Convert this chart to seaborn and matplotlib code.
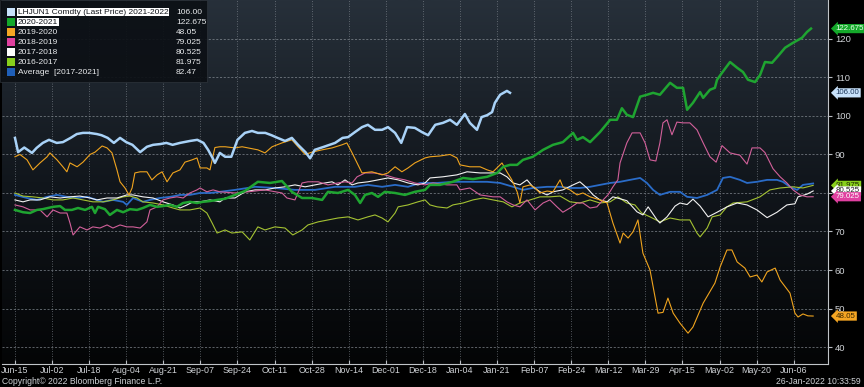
import numpy as np
import pandas as pd
import matplotlib
matplotlib.use("Agg")
import matplotlib.pyplot as plt
import matplotlib.transforms as mtransforms
from matplotlib.colors import LinearSegmentedColormap
from matplotlib.patches import Rectangle
import seaborn as sns

# (trading days since Jun-15, price)
lhjun1 = [(0, 94.3), (1, 90.6), (3, 91.8), (5.5, 90.4), (7, 91.7), (9, 93), (11, 93.8), (13.5, 93), (15.5, 93.2), (18, 94.3),
          (20, 95.3), (22, 95.6), (24, 95.6), (26.5, 95.3), (28, 95), (30, 94.3), (32, 93), (34, 94.3), (36, 93.2), (38, 92.5),
          (40.5, 90.6), (42.7, 92), (44.7, 92.5), (47, 92.7), (49, 93), (51, 92.5), (53.4, 93), (56.6, 93.5), (59, 93.8), (61, 93),
          (62.5, 91.2), (64, 89), (64.7, 87.8), (66.3, 90.4), (68, 89.4), (70, 89.4), (72, 93.8), (74.4, 95.6), (76.7, 96.1), (78.6, 95.6),
          (81, 95.6), (83, 95), (85, 94.3), (87.4, 93.5), (89.6, 94.3), (91.6, 92.5), (94, 90.6), (95.5, 89), (97, 91.2), (100, 92),
          (103.6, 93), (106, 94.3), (107.8, 94.5), (110, 95.8), (112.3, 97.1), (114.2, 97.7), (116.5, 96.4), (118.8, 96.4), (120.7, 97.1), (123, 95.6),
          (125, 93), (126.9, 97.1), (129.4, 96.9), (131.7, 95.8), (133.7, 95), (136, 97.7), (138.5, 98.2), (140.8, 99), (143, 97.7), (145.6, 100.5),
          (147.2, 98.2), (149.5, 96.4), (151, 99.7), (152.8, 100.2), (154.4, 101), (155.3, 103.4), (157, 105.5), (159.2, 106.5), (160.2, 106.0)]

y2020_21 = [(0, 75.6), (2.6, 75), (4.9, 74.8), (7.1, 75.6), (9, 75.8), (12.3, 76.4), (14.6, 76.6), (16.2, 75.6), (18.4, 75.6), (20.4, 76.1),
            (22.7, 75.6), (24.9, 76.4), (25.9, 74.8), (26.9, 76.4), (29.1, 75.8), (30.7, 74.3), (33, 75.6), (35, 75), (37.2, 75.8), (39.5, 75.6),
            (41.4, 76.1), (43.7, 76.9), (46, 76.4), (47.9, 76.6), (50.2, 76.9), (52.4, 76.4), (54.4, 77.4), (56.6, 77.7), (58.9, 77.4), (60.8, 77.7),
            (63.1, 77.9), (65.4, 78.2), (68, 78.5), (71.2, 79.5), (74.4, 80.5), (78.6, 82.9), (82.5, 82.6), (86.4, 83.1), (89.6, 80.3), (92.9, 78.7),
            (96.1, 78.7), (99.4, 78.2), (101.3, 80.3), (104.5, 80), (107.8, 80.8), (110, 79.5), (111.7, 77.4), (113.3, 79.5), (115.5, 80), (117.5, 79),
            (119.7, 80.3), (123, 80), (126.2, 79.5), (129.4, 80.3), (132.7, 80.8), (134.3, 82.1), (137.5, 82.1), (141.7, 82.9), (145, 83.9), (148.2, 83.6),
            (152.8, 84.2), (156, 85.2), (158, 86.8), (160.2, 87.3), (162.5, 87.3), (164.4, 88.6), (167.6, 89.4), (170.9, 91.2), (174.1, 92.5), (177.3, 93.2),
            (180.6, 95.6), (181.9, 93.8), (183.8, 94.5), (186.1, 93.2), (189.3, 95.8), (192.6, 99), (194.8, 99), (196.4, 102), (198, 100.3), (200, 99.7),
            (202.3, 105), (204.5, 105.5), (206.5, 106), (208.7, 105.5), (212, 108.6), (214.2, 107.3), (216.2, 107.3), (217.5, 101.6), (219.4, 103.4), (221.7, 106.2),
            (222.7, 104.7), (224.9, 106.8), (226.5, 107.3), (227.2, 109.4), (228.8, 111.2), (231.4, 114), (233.7, 112.5), (235.6, 111.4), (237.2, 109.4), (239.5, 108.8),
            (241.1, 110.6), (242.7, 114), (245, 113.8), (247.2, 115.8), (249.2, 117.7), (251.8, 119), (254.7, 120.3), (256.3, 121.8), (257.6, 122.675)]

y2019_20 = [(0, 89.4), (1.6, 90), (3.9, 88.6), (5.8, 86), (8.1, 87.8), (10.4, 89.4), (11.3, 90.4), (13.6, 88.6), (15.5, 86.8), (16.8, 85.5),
            (17.8, 87.8), (20.1, 86.8), (22, 88), (24.3, 90), (25.9, 90.6), (28.2, 92.2), (29.8, 91.7), (31.4, 90.4), (33, 86), (34, 82.9),
            (35.6, 81.3), (36.9, 79.5), (37.9, 81.3), (38.8, 85.2), (40.5, 85.5), (42.7, 85.5), (44.3, 83.4), (46, 84.7), (47.6, 85.5), (49.2, 82.9),
            (51.1, 85.2), (53.4, 86), (55, 88), (57.3, 88.6), (58.9, 89.1), (59.9, 86.5), (62.1, 86.5), (63.1, 86), (64.7, 91.8), (66.3, 92),
            (68, 92), (71.2, 91.7), (73.5, 92), (75.4, 91.7), (78.6, 91.2), (80.9, 90.4), (83.2, 92), (86.4, 93), (89.6, 93.8), (91.6, 92),
            (93.9, 90), (96.1, 90.6), (99.4, 91.2), (102.6, 91.7), (105.8, 92.5), (107.4, 93), (109.1, 90.4), (110.7, 87.8), (112.3, 85.2), (115.5, 85.5),
            (118.8, 84.7), (120.7, 85.2), (123, 86.8), (125.2, 85.5), (127.2, 86.5), (129.4, 87.8), (132.7, 89.1), (134.3, 89.4), (137.5, 89.6), (140.8, 90),
            (143, 89.1), (144, 87.3), (147.2, 86.8), (150.5, 86.8), (152.8, 86), (154.7, 85.5), (157.6, 87.8), (159.2, 85.5), (160.8, 83.4), (162.5, 80.3),
            (163.4, 77.4), (164.4, 81.6), (166.7, 82.1), (168.3, 81.3), (169.9, 80), (172.2, 80.5), (174.1, 80.3), (176.4, 83.4), (177.3, 81.6), (179.6, 80.8),
            (181.9, 79.5), (183.8, 80), (186.1, 79), (189.3, 78.2), (191.6, 77.4), (193.5, 72.2), (195.8, 67), (196.8, 69.6), (198.4, 68.3), (200, 69.9),
            (201.6, 73), (203.2, 64.4), (205.5, 60), (208.1, 48.8), (209.7, 49), (211.3, 52.7), (213, 48.8), (215.2, 46.2), (217.8, 43.6), (219.4, 45.2),
            (222.7, 51.4), (226.5, 56.6), (228.2, 60.8), (230.4, 65.2), (232, 65.2), (233.7, 62.1), (236.2, 60.5), (237.9, 58.2), (240.1, 58.7), (241.7, 56.9),
            (243.4, 59.5), (246, 60.5), (247.6, 57.4), (250.8, 54), (252.4, 48.8), (253.4, 47.8), (255, 48.6), (256.6, 48.1), (258.3, 48.05)]

y2018_19 = [(0, 76.9), (2.6, 76.4), (4.9, 75.6), (8.1, 75.6), (10.4, 73.8), (12.3, 75.6), (14.6, 74.8), (16.8, 74.8), (17.8, 72.2), (18.8, 69.1),
            (21, 71.2), (23.3, 70.4), (25.2, 71.2), (27.5, 70.9), (29.8, 71.7), (31.7, 70.9), (34, 71.7), (36.2, 71.2), (38.2, 71.2), (40.5, 70.9),
            (42.7, 72.5), (43.7, 75.6), (46, 76.4), (47.9, 78.2), (50.2, 78.7), (52.4, 79), (54.4, 78.7), (56.6, 80), (58.9, 80.8), (59.9, 81.3),
            (62.1, 80.3), (64.1, 80.8), (66.3, 80.3), (71.2, 80), (75.4, 80.3), (80.9, 80.8), (86.4, 80), (88, 78.7), (90.6, 78.2), (92.9, 82.6),
            (94.8, 82.9), (98.1, 82.9), (101.3, 82.1), (104.5, 82.6), (106.8, 82.9), (109.1, 82.6), (110.7, 84.2), (113.3, 85.2), (116.5, 85.2), (119.7, 84.7),
            (123, 83.9), (126.2, 83.4), (129.4, 82.6), (132.7, 82.1), (135.3, 82.6), (139.8, 82.1), (143, 82.1), (144, 80.8), (147.2, 81.3), (150.5, 79.5),
            (154.7, 79), (157, 79), (159.2, 77.7), (161.2, 76.9), (163.4, 76.4), (165.7, 78.2), (168.3, 75.6), (170.9, 77.4), (173.1, 78.2), (175.4, 76.4),
            (177.3, 75), (179.6, 76.1), (181.9, 77.4), (183.8, 77.4), (186.1, 76.1), (188.3, 76.4), (190.3, 78.2), (191.9, 79.5), (193.5, 81.6), (195.1, 83.4),
            (195.8, 87.8), (198, 93), (199.7, 95.6), (202.3, 95.6), (203.9, 93), (205.5, 88.6), (207.4, 88.3), (208.7, 93), (209.7, 98.2), (211, 99),
            (212.6, 95.1), (214.2, 98.4), (216.2, 98.2), (218.4, 98.2), (220.7, 96.4), (222.7, 93), (224.9, 89.4), (226.9, 88), (228.8, 92.3), (231.4, 90.4),
            (234.6, 89.8), (236.9, 87.5), (238.5, 91.7), (241.1, 91.7), (242.7, 90.5), (245.3, 86.3), (247.6, 84.2), (249.8, 82.6), (251.8, 80.8), (254, 79.5),
            (256.3, 79), (258.3, 79.025)]

y2017_18 = [(0, 78.2), (2.6, 77.7), (4.9, 78.2), (8.1, 78.2), (11.3, 79), (14.6, 78.7), (17.8, 79), (21, 79.2), (24.3, 78.7), (26.5, 78.2),
            (29.8, 78.7), (33, 78.7), (36.2, 79.5), (38.2, 79.5), (41.4, 79), (44.7, 78.7), (47.9, 77.7), (51.1, 76.9), (53.4, 76.1), (55.7, 76.9),
            (57.6, 77.7), (59.9, 77.7), (63.1, 78.2), (66.3, 77.7), (68, 78.7), (71.2, 78.7), (74.4, 80.3), (77.7, 80.8), (80.9, 80.8), (84.1, 81.3),
            (87.4, 81.6), (90.6, 82.1), (93.9, 81.6), (97.1, 82.1), (100.3, 82.6), (102.6, 82.9), (104.5, 82.1), (106.8, 83.4), (109.1, 82.1), (111, 82.6),
            (114.2, 82.9), (117.5, 83.4), (120.7, 83.9), (124, 83.4), (127.2, 82.6), (130.4, 82.1), (132.7, 82.6), (134.3, 83.9), (138.5, 84.2), (143, 84.7),
            (146.3, 85.5), (150.5, 85.2), (153.7, 85.2), (157, 85.2), (159.2, 84.2), (161.2, 82.6), (163.4, 82.1), (165.7, 83.4), (167.6, 81.6), (169.9, 80.3),
            (172.2, 79.5), (174.1, 80.3), (177.3, 80.8), (180.6, 82.1), (182.8, 82.9), (185.1, 81.3), (187.1, 79.5), (189.3, 78.2), (191.6, 77.7), (193.5, 79),
            (195.8, 78.5), (198, 78), (201.3, 75.1), (203.2, 74.3), (204.9, 76.4), (207.8, 73), (208.7, 72.2), (211, 73.8), (213.6, 76.6), (215.2, 77.4),
            (217.5, 77), (219.4, 78.4), (221.7, 76.6), (224.3, 73.8), (227.2, 75), (230.4, 76.4), (233.7, 77.4), (236.9, 76.9), (240.1, 75.6), (243.4, 73.6),
            (246.6, 75), (249.8, 76.9), (252.4, 77.2), (253.4, 79), (256.3, 79.7), (258.3, 80.525)]

y2016_17 = [(0, 80), (2.6, 79.2), (5.8, 79), (9, 78.7), (12.3, 78.2), (15.5, 78.2), (18.8, 78.7), (22, 78.2), (25.2, 77.7), (28.5, 77.7),
            (31.7, 78.2), (35, 79), (37.2, 79.2), (39.5, 78.7), (41.4, 77.7), (44.7, 77.4), (47.9, 76.9), (51.1, 76.1), (53.4, 75.6), (56.6, 75.6),
            (59.9, 76.1), (62.1, 74.8), (63.8, 72.2), (65.4, 69.6), (68, 70.4), (70.2, 69.6), (73.5, 69.9), (76, 67.8), (78.6, 71.2), (80.9, 70.4),
            (84.1, 71.2), (87.4, 70.9), (89.9, 69.1), (92.9, 70.4), (94.8, 71.7), (98.1, 72.5), (101.3, 73), (104.5, 73.5), (107.8, 73.8), (111, 73),
            (114.2, 73.8), (116.5, 74.3), (118.8, 73.5), (120.7, 72.5), (123, 74.8), (124, 76.4), (127.2, 76.9), (130.4, 77.7), (132.7, 78.2), (134.3, 76.9),
            (136.6, 76.4), (139.8, 76.1), (141.7, 76.9), (145, 77.4), (148.2, 78.2), (151.5, 78.7), (154.7, 78.2), (158, 77.7), (160.8, 76.4), (163.4, 77.4),
            (166.7, 78.2), (169.9, 79), (173.1, 79), (176.4, 79.2), (179.6, 77.7), (182.8, 77.4), (186.1, 78.2), (189.3, 77.4), (192.6, 77.7), (195.1, 79),
            (198, 77.4), (200.6, 76.9), (202.8, 74.8), (205.5, 73.8), (208.7, 72.5), (212, 73.5), (215.2, 73), (218.4, 73), (220.7, 69.6), (221.7, 68.6),
            (224, 70.9), (225.6, 73.8), (228.2, 74.3), (230.4, 76.4), (232.4, 77.4), (236.9, 77.7), (241.1, 79), (244.3, 80.8), (247.6, 81.3), (251.8, 81.6),
            (255, 81.3), (258.3, 81.975)]

avg_1721 = [(0, 79.5), (3.9, 78.7), (7.1, 78.2), (10.4, 79), (13.6, 79.5), (16.8, 79), (20.1, 78.7), (23.3, 79), (26.5, 78.2), (28.5, 77.7),
            (31.7, 78.2), (35, 77.7), (36.2, 76.9), (38.2, 78.7), (41.4, 77.7), (43.7, 78.2), (46.9, 78.7), (50.2, 79), (53.4, 79.5), (56.6, 79.5),
            (59.9, 80), (63.1, 80), (66.3, 80.3), (71.2, 80.8), (77.7, 81.6), (84.1, 81.3), (90.6, 80.8), (97.1, 80.8), (103.6, 81.6), (110, 81.6),
            (114.2, 82.1), (118.8, 81.6), (123, 82.1), (127.2, 81.6), (131.1, 82.6), (136.6, 82.6), (141.7, 82.9), (147.2, 82.9), (152.8, 82.9), (157, 82.6),
            (161.2, 81.6), (164.4, 80.8), (167.6, 81.3), (172.2, 81.6), (176.4, 81.6), (179.6, 81.3), (182.8, 81.3), (186.1, 81.6), (189.3, 82.1), (192.6, 82.6),
            (195.8, 82.9), (199, 83.4), (202.3, 83.9), (204.5, 82.6), (206.5, 80.8), (208.7, 79.5), (212, 80.3), (215.2, 80.3), (217.5, 79), (220.7, 78.7),
            (224, 79.5), (227.2, 80.8), (229.1, 83.9), (231.4, 84.2), (234.6, 83.4), (236.9, 82.6), (240.1, 82.9), (243.4, 83.4), (246.6, 83.4), (248.5, 82.9),
            (250.8, 81.6), (253.1, 80.8), (255, 82.1), (258.3, 82.47)]

legend_labels = ["LHJUN1 Comdty (Last Price) 2021-2022", "2020-2021", "2019-2020", "2018-2019",
                 "2017-2018", "2016-2017", "Average  [2017-2021]"]
legend_values = ["106.00", "122.675", "48.05", "79.025", "80.525", "81.975", "82.47"]
tick_labels = ["Jun-15", "Jul-02", "Jul-18", "Aug-04", "Aug-21", "Sep-07", "Sep-24", "Oct-11", "Oct-28",
               "Nov-14", "Dec-01", "Dec-18", "Jan-04", "Jan-21", "Feb-07", "Feb-24", "Mar-12", "Mar-29",
               "Apr-15", "May-02", "May-20", "Jun-06"]
tick_days = [12 * i for i in range(len(tick_labels))]

all_series = [lhjun1, y2020_21, y2019_20, y2018_19, y2017_18, y2016_17, avg_1721]
line_colors = ["#a9d2f7", "#1fa531", "#f0a41e", "#d2609a", "#f2f2f2", "#a4c232", "#2a6cc8"]
box_colors = ["#c8e2fb", "#14a82a", "#f5a623", "#e040a0", "#ffffff", "#88cf1c", "#1f5fb8"]
line_widths = [1.8, 1.8, 0.8, 0.8, 0.8, 0.8, 1.3]
draw_order = [6, 5, 4, 3, 2, 1, 0]

plt.rcParams['font.family'] = ['Liberation Sans', 'DejaVu Sans']
txt = "#cfd2d6"

fig = plt.figure(figsize=(8.64, 3.87), dpi=100, facecolor="black")
ax = fig.add_axes([2 / 864, 23 / 387, 826 / 864, 364 / 387])
ax.set_facecolor("black")

# gradient background
bg = LinearSegmentedColormap.from_list("bg", ["#040506", "#11161c", "#27303a"])
ax.imshow(np.linspace(0, 1, 256)[:, None], cmap=bg, aspect="auto", origin="lower",
          extent=[0, 1, 0, 1], transform=ax.transAxes, zorder=0)

for i in draw_order:
    df = pd.DataFrame(all_series[i], columns=["day", "price"])
    sns.lineplot(data=df, x="day", y="price", ax=ax, color=line_colors[i],
                 linewidth=line_widths[i], estimator=None, sort=False, zorder=3 + (6 - i))

ax.set_xlim(-4.2, 263.1)
ax.set_ylim(35.6, 130.1)
ax.set_xticks(tick_days)
ax.set_xticklabels(tick_labels)
ax.set_yticks(range(40, 121, 10))
ax.yaxis.tick_right()
ax.set_xlabel("")
ax.set_ylabel("")
ax.tick_params(axis="x", colors="#b8bcc2", labelcolor=txt, labelsize=6.4, length=3, direction="in", pad=1.5)
ax.tick_params(axis="y", colors="#b8bcc2", labelcolor=txt, labelsize=6.8, length=3, pad=2)
ax.grid(axis="y", color="#8d949c", linestyle=(0, (2.5, 2)), linewidth=0.6, alpha=0.75, zorder=1)
ax.grid(axis="x", color="#8d949c", linestyle=(0, (1, 2)), linewidth=0.6, alpha=0.75, zorder=1)
ax.set_axisbelow(False)
for s in ["left", "top"]:
    ax.spines[s].set_visible(False)
for s in ["right", "bottom"]:
    ax.spines[s].set_color("#c0c4c8")
    ax.spines[s].set_linewidth(0.8)

# last-price tags on the right axis
tr = mtransforms.blended_transform_factory(ax.transAxes, ax.transData)
tag_text_colors = ["#1b3558", "#eaffea", "#3a2600", "#ffffff", "#202020", "#1e2a00", "#ffffff"]
for i in [1, 0, 5, 4, 3, 2]:
    ax.text(1.0095, all_series[i][-1][1], legend_values[i], transform=tr, fontsize=5.7,
            color=tag_text_colors[i], va="center", ha="left", clip_on=False, zorder=20,
            bbox=dict(boxstyle="larrow,pad=0.14", fc=box_colors[i], ec="none"))

# legend box
fig.patches.append(Rectangle((0, 1 - 82 / 387), 207 / 864, 82 / 387, transform=fig.transFigure,
                             fc="#0c1015", ec="#30363d", lw=0.5, alpha=0.93, zorder=30))
for i, lab in enumerate(legend_labels):
    yc = 1 - (12.3 + 10 * i) / 387
    fig.patches.append(Rectangle((7 / 864, yc - 4 / 387), 8 / 864, 8 / 387, transform=fig.transFigure,
                                 fc=box_colors[i], ec="none", zorder=31))
    if i < 2:
        fig.text(18 / 864, yc, lab, fontsize=6.0, color="#10141a", va="center", ha="left", zorder=32,
                 bbox=dict(fc="white", ec="none", pad=0.5))
    else:
        fig.text(18 / 864, yc, lab, fontsize=6.0, color="#e8eaec", va="center", ha="left", zorder=32)
    fig.text(176 / 864, yc, legend_values[i], fontsize=6.0, color="#e8eaec", va="center", ha="left", zorder=32)

fig.text(2 / 864, 1 / 387, "Copyright\u00a9 2022 Bloomberg Finance L.P.", fontsize=6.2, color=txt, ha="left", va="bottom")
fig.text(861 / 864, 1 / 387, "26-Jan-2022 10:33:59", fontsize=6.2, color=txt, ha="right", va="bottom")

fig.savefig("out.png", dpi=100, facecolor="black")
